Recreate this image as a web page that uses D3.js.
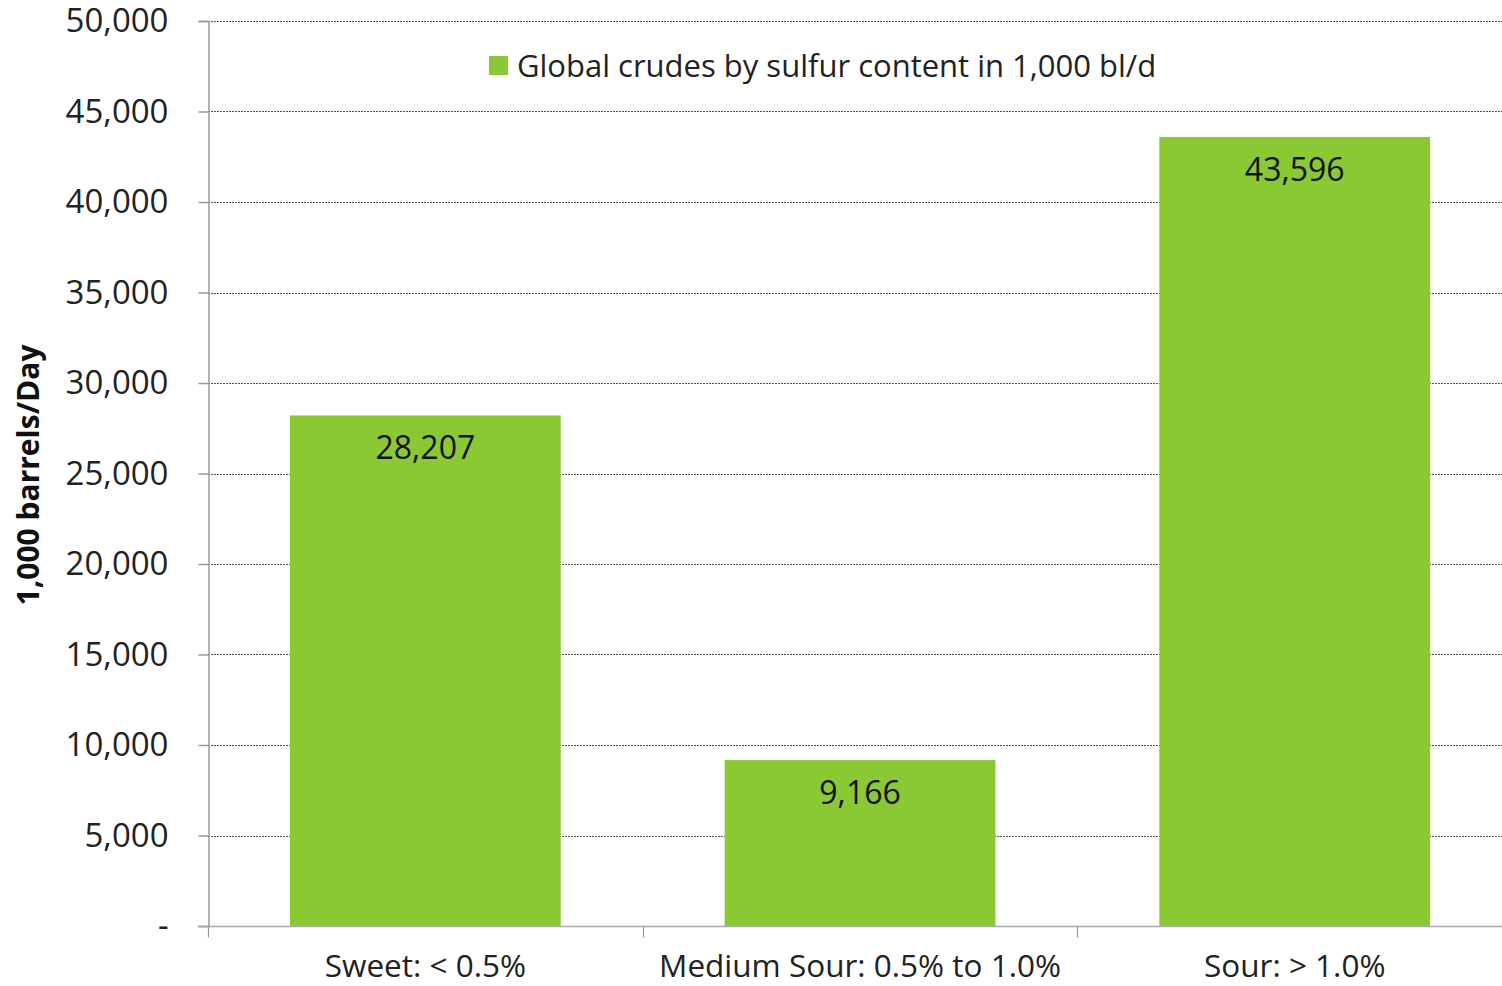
<!DOCTYPE html>
<html>
<head>
<meta charset="utf-8">
<script src="https://cdn.jsdelivr.net/npm/d3@7"></script>
<style>
  html, body { margin: 0; padding: 0; background: #fff; }
  svg { display: block; }
</style>
</head>
<body>
<svg id="chart" width="1502" height="986"></svg>
<script>
// Crude production by sulfur content (1,000 barrels/day)
const categories = ["Sweet: < 0.5%", "Medium Sour: 0.5% to 1.0%", "Sour: > 1.0%"];
const values = [28207, 9166, 43596];
const yTicks = [0, 5000, 10000, 15000, 20000, 25000, 30000, 35000, 40000, 45000, 50000];
const seriesName = "Global crudes by sulfur content in 1,000 bl/d";
const yTitle = "1,000 barrels/Day";

const W = 1502, H = 986;
const margin = { left: 208, top: 21, bottom: 60 };
const barColor = "#8BC934";
const font = "'Open Sans', sans-serif";

const svg = d3.select("#chart");

// Category bands: three equal slots starting at the y axis
const x = d3.scaleBand()
  .domain(categories)
  .range([margin.left, margin.left + 3 * 434.7])
  .paddingInner(0.377)
  .paddingOuter(0.1885);

const y = d3.scaleLinear()
  .domain([0, 50000])
  .range([H - margin.bottom, margin.top]);

const fmt = d3.format(",");

// Dotted gridlines
svg.append("g")
  .selectAll("line")
  .data(yTicks.filter(d => d > 0))
  .join("line")
  .attr("x1", margin.left)
  .attr("x2", W)
  .attr("y1", d => Math.round(y(d)) + 0.5)
  .attr("y2", d => Math.round(y(d)) + 0.5)
  .attr("stroke", "#555")
  .attr("stroke-width", 1)
  .attr("stroke-dasharray", "2,1");

// Bars
svg.append("g")
  .selectAll("rect")
  .data(values)
  .join("rect")
  .attr("x", (d, i) => x(categories[i]))
  .attr("width", x.bandwidth())
  .attr("y", d => y(d))
  .attr("height", d => y(0) - y(d))
  .attr("fill", barColor);

// Value labels just inside the bar tops
svg.append("g")
  .selectAll("text")
  .data(values)
  .join("text")
  .attr("x", (d, i) => x(categories[i]) + x.bandwidth() / 2)
  .attr("y", d => y(d) + 44)
  .attr("text-anchor", "middle")
  .attr("font-family", font)
  .attr("font-size", 32)
  .attr("fill", "#111")
  .text(d => fmt(d));

// Y axis
const yAxis = d3.axisLeft(y)
  .tickValues(yTicks)
  .tickSize(10)
  .tickPadding(30)
  .tickFormat(d => d === 0 ? "-" : fmt(d));

const gy = svg.append("g")
  .attr("transform", `translate(${margin.left + 0.5},0)`)
  .call(yAxis);
gy.select(".domain").attr("stroke", "#999").attr("stroke-width", 1.5);
gy.selectAll(".tick line").attr("stroke", "#999").attr("stroke-width", 1.5);
gy.selectAll(".tick text")
  .attr("font-family", font)
  .attr("font-size", 33)
  .attr("fill", "#222")
  .attr("dy", "0.33em");

// X axis line with ticks at the category boundaries
const xAxisY = Math.round(y(0)) + 0.5;
svg.append("line")
  .attr("x1", margin.left - 10).attr("x2", W)
  .attr("y1", xAxisY).attr("y2", xAxisY)
  .attr("stroke", "#aaa").attr("stroke-width", 1.5);

const step = x.step();
const outer = x.paddingOuter() * step;
svg.append("g")
  .selectAll("line")
  .data(categories)
  .join("line")
  .attr("x1", c => Math.round(x(c) - outer) + 0.5)
  .attr("x2", c => Math.round(x(c) - outer) + 0.5)
  .attr("y1", xAxisY)
  .attr("y2", xAxisY + 11)
  .attr("stroke", "#999")
  .attr("stroke-width", 1.2);

svg.append("g")
  .selectAll("text")
  .data(categories)
  .join("text")
  .attr("x", c => x(c) + x.bandwidth() / 2)
  .attr("y", 977)
  .attr("text-anchor", "middle")
  .attr("font-family", font)
  .attr("font-size", 31.5)
  .attr("fill", "#222")
  .text(c => c);

// Y axis title
svg.append("text")
  .attr("transform", `translate(39, 475) rotate(-90)`)
  .attr("text-anchor", "middle")
  .attr("font-family", "'Open Sans', sans-serif")
  .attr("font-weight", "bold")
  .attr("font-size", 30)
  .attr("fill", "#111")
  .text(yTitle);

// Legend
const legend = svg.append("g").attr("transform", "translate(489,56)");
legend.append("rect").attr("width", 19).attr("height", 19).attr("fill", barColor);
legend.append("text")
  .attr("x", 28)
  .attr("y", 21)
  .attr("font-family", font)
  .attr("font-size", 31)
  .attr("fill", "#222")
  .text(seriesName);
</script>
</body>
</html>
